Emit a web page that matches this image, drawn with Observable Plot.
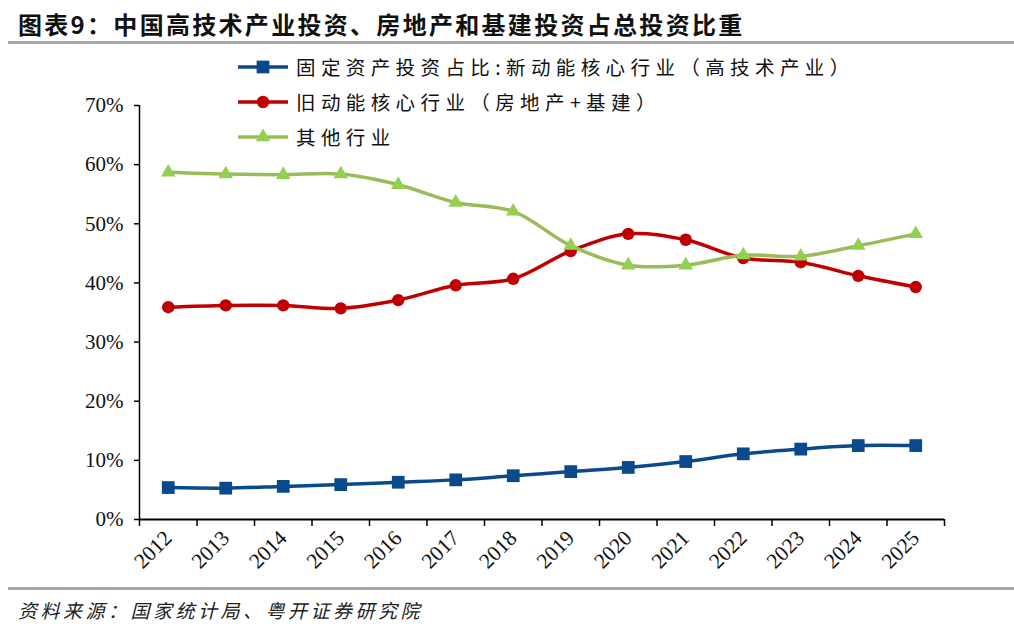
<!DOCTYPE html>
<html><head><meta charset="utf-8">
<script src="https://cdn.jsdelivr.net/npm/d3@7"></script>
<script src="https://cdn.jsdelivr.net/npm/@observablehq/plot@0.6"></script>
<style>
body{margin:0;background:#fff;}
#page{position:relative;width:1014px;height:642px;overflow:hidden;background:#fff;font-family:"Noto Sans CJK SC",sans-serif;}
#title{position:absolute;left:18px;top:6px;font-size:24px;font-weight:bold;letter-spacing:2.3px;color:#111;white-space:nowrap;}
.hr{position:absolute;left:8px;right:0;height:3px;background:#a6a6a6;}
#legend{position:absolute;left:238px;top:49px;z-index:2;}
.item{display:flex;align-items:center;height:35px;font-size:19.5px;letter-spacing:5.4px;color:#111;white-space:nowrap;}
.item svg{margin-right:8px;flex:none;}
#caption{position:absolute;left:18px;top:596px;font-size:19px;font-style:italic;letter-spacing:3.5px;color:#222;white-space:nowrap;}
#chart{position:absolute;left:0;top:50px;}
</style>
</head><body>
<div id="page">
  <div id="title">图表9：中国高技术产业投资、房地产和基建投资占总投资比重</div>
  <div class="hr" style="top:41px"></div>
  <div id="chart"></div>
  <div id="legend"></div>
  <div class="hr" style="top:587px"></div>
  <div id="caption">资料来源：国家统计局、粤开证券研究院</div>
</div>
<script>
const years = [2012,2013,2014,2015,2016,2017,2018,2019,2020,2021,2022,2023,2024,2025];
const seriesNames = [
  "固定资产投资占比:新动能核心行业（高技术产业）",
  "旧动能核心行业（房地产+基建）",
  "其他行业"
];
const newCore = [5.4,5.3,5.6,5.9,6.3,6.7,7.4,8.1,8.8,9.8,11.1,11.9,12.5,12.5];
const oldCore = [35.9,36.2,36.2,35.7,37.1,39.6,40.7,45.4,48.3,47.3,44.2,43.5,41.2,39.3];
const others  = [58.7,58.4,58.3,58.4,56.6,53.6,52.1,46.3,43.0,43.0,44.7,44.5,46.3,48.3];
const yTicks = [0,10,20,30,40,50,60,70];

const styles = [
  {values:newCore, line:"#0a4a8c", fill:"#0a4a8c", symbol:"square", r:7.2},
  {values:oldCore, line:"#c00000", fill:"#c00000", symbol:"circle", r:6.2},
  {values:others,  line:"#9bbb59", fill:"#92d050", symbol:"triangle", r:5.4}
];

const xDom = [years[0]-0.5, years[years.length-1]+0.5];
const bounds = d3.range(xDom[0], xDom[1]+0.01, 1);

const lineMarks = [];
styles.forEach((s,k)=>{
  const data = years.map((y,i)=>({year:y, value:s.values[i], series:seriesNames[k]}));
  lineMarks.push(Plot.line(data,{x:"year",y:"value",stroke:s.line,strokeWidth:3.5,curve:"catmull-rom"}));
  lineMarks.push(Plot.dot(data,{x:"year",y:"value",symbol:()=>s.symbol,fill:s.fill,stroke:"none",r:s.r}));
});

const chart = Plot.plot({
  width:1014, height:540,
  marginLeft:139, marginRight:70, marginTop:55, marginBottom:71,
  style:{fontFamily:'"Liberation Serif", serif', fontSize:"21px", color:"#111", background:"transparent", overflow:"visible"},
  x:{type:"linear", domain:xDom, label:null},
  y:{domain:[0,70], label:null},
  symbol:{type:"identity"},
  marks:[
    Plot.axisY({ticks:yTicks, tickFormat:d=>d+"%", tickSize:5, tickPadding:11, stroke:"#000", strokeWidth:1.5, fontSize:21, label:null}),
    Plot.axisX({ticks:bounds, tickFormat:()=>"", tickSize:7, stroke:"#000", strokeWidth:1.5, label:null}),
    Plot.axisX({ticks:years, tickFormat:d=>String(d), tickSize:0, tickRotate:-45, tickPadding:15, fontSize:21.5, label:null}),
    Plot.ruleX([xDom[0]],{stroke:"#000",strokeWidth:1.5}),
    Plot.ruleY([0],{stroke:"#000",strokeWidth:2}),
    ...lineMarks
  ]
});
document.getElementById("chart").appendChild(chart);

// legend
const legend = document.getElementById("legend");
styles.forEach((s,k)=>{
  const item = document.createElement("div");
  item.className = "item";
  const svg = d3.create("svg").attr("width",50).attr("height",20);
  svg.append("line").attr("x1",0).attr("x2",50).attr("y1",10).attr("y2",10).attr("stroke",s.line).attr("stroke-width",3.5);
  const sym = s.symbol==="square"?d3.symbolSquare:s.symbol==="circle"?d3.symbolCircle:d3.symbolTriangle;
  svg.append("path").attr("d",d3.symbol(sym, Math.PI*s.r*s.r)()).attr("transform","translate(25,10)").attr("fill",s.fill);
  item.appendChild(svg.node());
  const span = document.createElement("span");
  span.textContent = seriesNames[k];
  item.appendChild(span);
  legend.appendChild(item);
});
</script>
</body></html>
